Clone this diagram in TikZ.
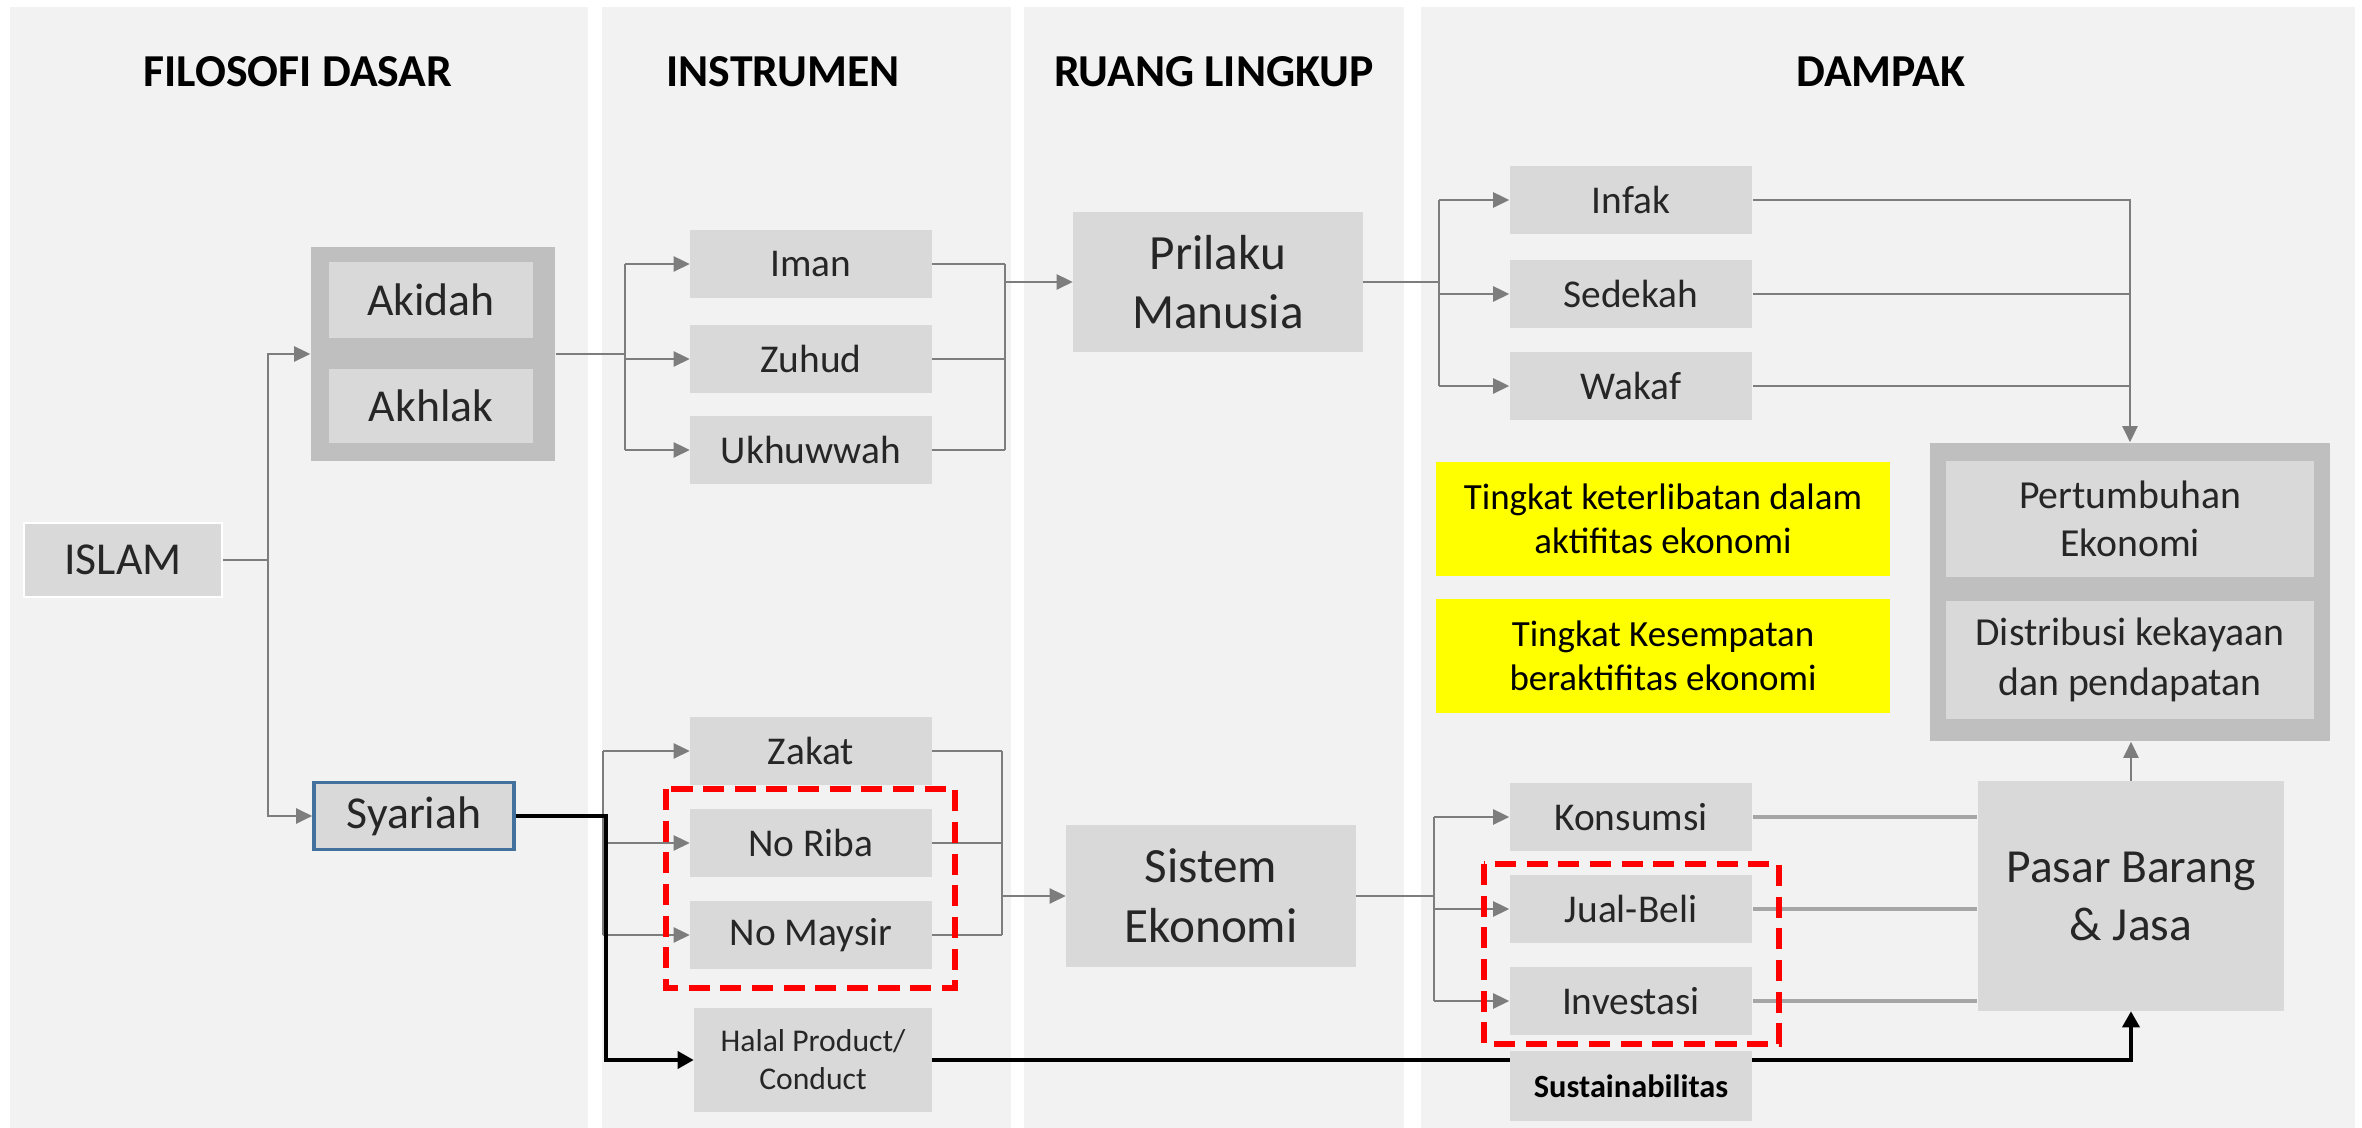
\documentclass[tikz,border=0pt]{standalone}
\usepackage{fontspec}
\setmainfont{Carlito}
\usepackage{xcolor}
\usepackage{tikz}
\usetikzlibrary{arrows.meta}
\definecolor{panelgray}{RGB}{242,242,242}
\definecolor{boxgray}{RGB}{217,217,217}
\definecolor{groupgray}{RGB}{191,191,191}
\definecolor{linkgray}{RGB}{125,125,125}
\definecolor{flowgray}{RGB}{166,166,166}
\definecolor{syariahblue}{RGB}{65,113,156}
\definecolor{noteyellow}{RGB}{255,255,0}

\begin{document}
\begin{tikzpicture}[x=0.01cm, y=-0.01cm, >={Triangle[length=0.16cm, width=0.15cm]},
  head/.style={font=\fontsize{13}{16}\selectfont\bfseries},
  box/.style={fill=boxgray, inner sep=0pt, align=center, text=black!85},
  item/.style={box, minimum width=2.41cm, minimum height=0.67cm, font=\fontsize{11.2}{13.7}\selectfont},
  mid/.style={box, font=\fontsize{13}{16}\selectfont},
  big/.style={box, font=\fontsize{14}{17}\selectfont},
  note/.style={fill=noteyellow, inner sep=0pt, align=center, minimum width=4.53cm, minimum height=1.14cm, font=\fontsize{10.5}{12.6}\selectfont},
  link/.style={draw=linkgray, line width=0.7pt},
  flow/.style={draw=flowgray, line width=1.2pt},
  halallink/.style={draw=black, line width=1pt},
  focus/.style={draw=red, line width=1.6pt, dash pattern=on 6pt off 3pt}]
\useasboundingbox (0,0) rectangle (2362,1128);

% Column panels
\fill[panelgray] (10,7) rectangle (588,1128);
\fill[panelgray] (602,7) rectangle (1011,1128);
\fill[panelgray] (1024,7) rectangle (1404,1128);
\fill[panelgray] (1421,7) rectangle (2355,1128);

% Headings
\node[head] (hfilosofi) at (298,72) {FILOSOFI DASAR};
\node[head] (hinstrumen) at (783,72) {INSTRUMEN};
\node[head] (hruang) at (1214,72) {RUANG LINGKUP};
\node[head] (hdampak) at (1881,72) {DAMPAK};

% Filosofi dasar
\node[mid, draw=white, line width=0.8pt, minimum width=1.98cm, minimum height=0.74cm] (islam) at (123,560) {ISLAM};
\node[fill=groupgray, minimum width=2.44cm, minimum height=2.14cm] (fd) at (433,354) {};
\node[mid, minimum width=2.03cm, minimum height=0.75cm] (akidah) at (431,300) {Akidah};
\node[mid, minimum width=2.03cm, minimum height=0.73cm] (akhlak) at (431,406) {Akhlak};
\node[mid, draw=syariahblue, line width=1pt, minimum width=2.0cm, minimum height=0.67cm] (syariah) at (414,816) {Syariah};

% Instrumen
\node[item] (iman) at (811,264) {Iman};
\node[item] (zuhud) at (811,359) {Zuhud};
\node[item] (ukhuwwah) at (811,450) {Ukhuwwah};
\node[item] (zakat) at (811,751) {Zakat};
\node[item] (noriba) at (811,843) {No Riba};
\node[item] (nomaysir) at (811,935) {No Maysir};
\node[box, minimum width=2.37cm, minimum height=1.03cm, font=\fontsize{9}{10.8}\selectfont] (halal) at (813,1060) {Halal Product/\\Conduct};

% Ruang lingkup
\node[big, minimum width=2.89cm, minimum height=1.40cm] (prilaku) at (1218,282) {Prilaku\\Manusia};
\node[big, minimum width=2.89cm, minimum height=1.41cm] (sistem) at (1211,896) {Sistem\\Ekonomi};

% Dampak
\node[item, minimum width=2.42cm] (infak) at (1631,200) {Infak};
\node[item, minimum width=2.42cm] (sedekah) at (1631,294) {Sedekah};
\node[item, minimum width=2.42cm] (wakaf) at (1631,386) {Wakaf};
\node[item, minimum width=2.42cm] (konsumsi) at (1631,817) {Konsumsi};
\node[item, minimum width=2.42cm] (jualbeli) at (1631,909) {Jual-Beli};
\node[item, minimum width=2.42cm] (investasi) at (1631,1001) {Investasi};
\node[note] (keterlibatan) at (1663,519) {Tingkat keterlibatan dalam\\aktifitas ekonomi};
\node[note] (kesempatan) at (1663,656) {Tingkat Kesempatan\\beraktifitas ekonomi};
\node[fill=groupgray, minimum width=4.0cm, minimum height=2.98cm] (hasil) at (2130,592) {};
\node[box, minimum width=3.67cm, minimum height=1.15cm, font=\fontsize{11.3}{13.8}\selectfont] (pertumbuhan) at (2130,519) {Pertumbuhan\\Ekonomi};
\node[box, minimum width=3.67cm, minimum height=1.18cm, font=\fontsize{11.3}{14.4}\selectfont] (distribusi) at (2130,660) {Distribusi kekayaan\\dan pendapatan};
\node[box, minimum width=3.06cm, minimum height=2.29cm, font=\fontsize{13.5}{16.5}\selectfont] (pasar) at (2131,896) {Pasar Barang\\\& Jasa};

% Junctions
\coordinate (j1) at (268,0);
\coordinate (j2) at (625,0);
\coordinate (j3) at (1005,0);
\coordinate (j4) at (1439,0);
\coordinate (j6) at (603,0);
\coordinate (j6b) at (606,0);
\coordinate (j7) at (1002,0);
\coordinate (j8) at (1434,0);

% Islam to akidah/akhlak and syariah
\draw[link] (islam.east) -- (j1 |- islam);
\draw[link,->] (j1 |- islam) |- (fd.west);
\draw[link,->] (j1 |- islam) |- (syariah.west);

% Akidah/akhlak to instrumen
\draw[link] (fd.east) -- (j2 |- fd);
\draw[link] (j2 |- iman) -- (j2 |- ukhuwwah);
\foreach \n in {iman,zuhud,ukhuwwah}
  \draw[link,->] (j2 |- \n) -- (\n.west);

% Instrumen to prilaku
\foreach \n in {iman,zuhud,ukhuwwah}
  \draw[link] (\n.east) -- (j3 |- \n);
\draw[link] (j3 |- iman) -- (j3 |- ukhuwwah);
\draw[link,->] (j3 |- prilaku) -- (prilaku.west);

% Prilaku to infak, sedekah, wakaf
\draw[link] (prilaku.east) -- (j4 |- prilaku);
\draw[link] (j4 |- infak) -- (j4 |- wakaf);
\foreach \n in {infak,sedekah,wakaf}
  \draw[link,->] (j4 |- \n) -- (\n.west);
\draw[link,->] (infak.east) -| (hasil.north);
\foreach \n in {sedekah,wakaf}
  \draw[link] (\n.east) -- (hasil.north |- \n);

% Syariah to instrumen
\draw[link] (syariah.east) -- (j6 |- syariah);
\draw[link] (j6 |- zakat) -- (j6 |- nomaysir);
\foreach \n in {zakat,noriba,nomaysir}
  \draw[link,->] (j6 |- \n) -- (\n.west);
\draw[halallink,-{Triangle[length=0.16cm, width=0.17cm]}] (syariah.east) -- (j6b |- syariah) |- (halal.west);

% Instrumen to sistem ekonomi
\foreach \n in {zakat,noriba,nomaysir}
  \draw[link] (\n.east) -- (j7 |- \n);
\draw[link] (j7 |- zakat) -- (j7 |- nomaysir);
\draw[link,->] (j7 |- sistem) -- (sistem.west);

% Sistem ekonomi to pasar
\draw[link] (sistem.east) -- (j8 |- sistem);
\draw[link] (j8 |- konsumsi) -- (j8 |- investasi);
\foreach \n in {konsumsi,jualbeli,investasi}
  \draw[link,->] (j8 |- \n) -- (\n.west);
\foreach \n in {konsumsi,jualbeli,investasi}
  \draw[flow] (\n.east) -- (pasar.west |- \n);
\draw[link,->] (pasar.north) -- (pasar.north |- hasil.south);

% Halal line with sustainabilitas on top
\draw[halallink,-{Triangle[length=0.16cm, width=0.17cm]}] (halal.east) -| (pasar.south);
\node[box, minimum width=2.42cm, minimum height=0.70cm, font=\fontsize{9.2}{11}\selectfont\bfseries, text=black] (sustain) at (1631,1086) {Sustainabilitas};

% Highlight boxes
\draw[focus] (666,789) rectangle (955,988);
\draw[focus] (1484,864) rectangle (1779,1044);
\end{tikzpicture}
\end{document}
